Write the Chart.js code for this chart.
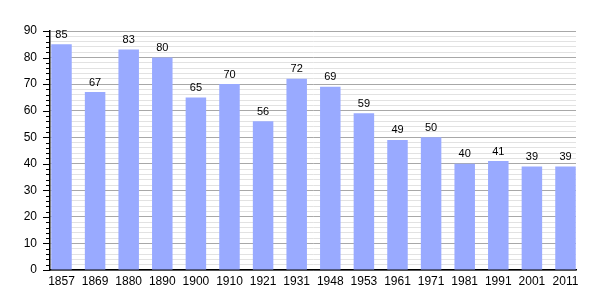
<!DOCTYPE html>
<html>
<head>
<meta charset="utf-8">
<script src="https://cdn.jsdelivr.net/npm/chart.js@4.4.1/dist/chart.umd.min.js"></script>
<style>
  html, body { margin: 0; padding: 0; background: #fff; }
  #wrap { width: 605px; height: 300px; }
</style>
</head>
<body>
<div id="wrap"><canvas id="chart"></canvas></div>
<script>
const years  = ['1857', '1869', '1880', '1890', '1900', '1910', '1921', '1931', '1948', '1953', '1961', '1971', '1981', '1991', '2001', '2011'];
const values = [85, 67, 83, 80, 65, 70, 56, 72, 69, 59, 49, 50, 40, 41, 39, 39];
const yTicks = [0, 10, 20, 30, 40, 50, 60, 70, 80, 90];

const FONT = '"Liberation Sans", Arial, sans-serif';

// value labels above bars + y tick marks
const extras = {
  id: 'extras',
  afterDatasetsDraw(chart) {
    const { ctx } = chart;
    const meta = chart.getDatasetMeta(0);
    ctx.save();
    ctx.font = '11px ' + FONT;
    ctx.fillStyle = '#000';
    ctx.textAlign = 'center';
    ctx.textBaseline = 'bottom';
    meta.data.forEach((bar, i) => ctx.fillText(values[i], bar.x, bar.y - 4));

    const y = chart.scales.y;
    const x0 = chart.chartArea.left;
    ctx.strokeStyle = '#000';
    ctx.lineWidth = 1;
    for (let v = 0; v <= 90; v += 2) {
      const py = Math.round(y.getPixelForValue(v)) + 0.5;
      const len = v % 10 === 0 ? 7 : 4;
      ctx.beginPath();
      ctx.moveTo(x0 - len, py);
      ctx.lineTo(x0, py);
      ctx.stroke();
    }
    ctx.restore();
  }
};

new Chart(document.getElementById('chart'), {
  type: 'bar',
  data: {
    datasets: [{
      data: values.map((v, i) => ({ x: i, y: v })),
      backgroundColor: '#99aaff',
      borderWidth: 0,
      barPercentage: 1,
      categoryPercentage: 0.61,
    }],
  },
  options: {
    responsive: true, maintainAspectRatio: false, animation: false,
    layout: { padding: { left: 0, top: 31, right: 29, bottom: 0 } },
    plugins: { legend: { display: false }, tooltip: { enabled: false } },
    scales: {
      x: {
        type: 'linear', min: -0.342, max: 15.3125, offset: false,
        afterBuildTicks: s => { s.ticks = years.map((_, i) => ({ value: i })); },
        afterFit: s => { s.height = 30; },
        grid: { display: false, drawTicks: false },
        border: { color: '#000', width: 1.5 },
        ticks: { color: '#000', font: { family: FONT, size: 12 }, padding: 4, maxRotation: 0, autoSkip: false,
                 callback: v => years[v] },
      },
      y: {
        min: 0, max: 90,
        afterBuildTicks: s => { s.ticks = []; for (let v = 0; v <= 90; v += 2) s.ticks.push({ value: v }); },
        afterFit: s => { s.width = 50; },
        grid: {
          drawTicks: false,
          color: c => c.tick.value % 10 === 0 ? '#a8a8a8' : '#e2e2e2',
        },
        border: { color: '#000', width: 1.5 },
        ticks: { color: '#000', font: { family: FONT, size: 12 }, padding: 13, autoSkip: false,
                 callback: v => yTicks.includes(v) ? v : '' },
      },
    },
  },
  plugins: [extras],
});
</script>
</body>
</html>
